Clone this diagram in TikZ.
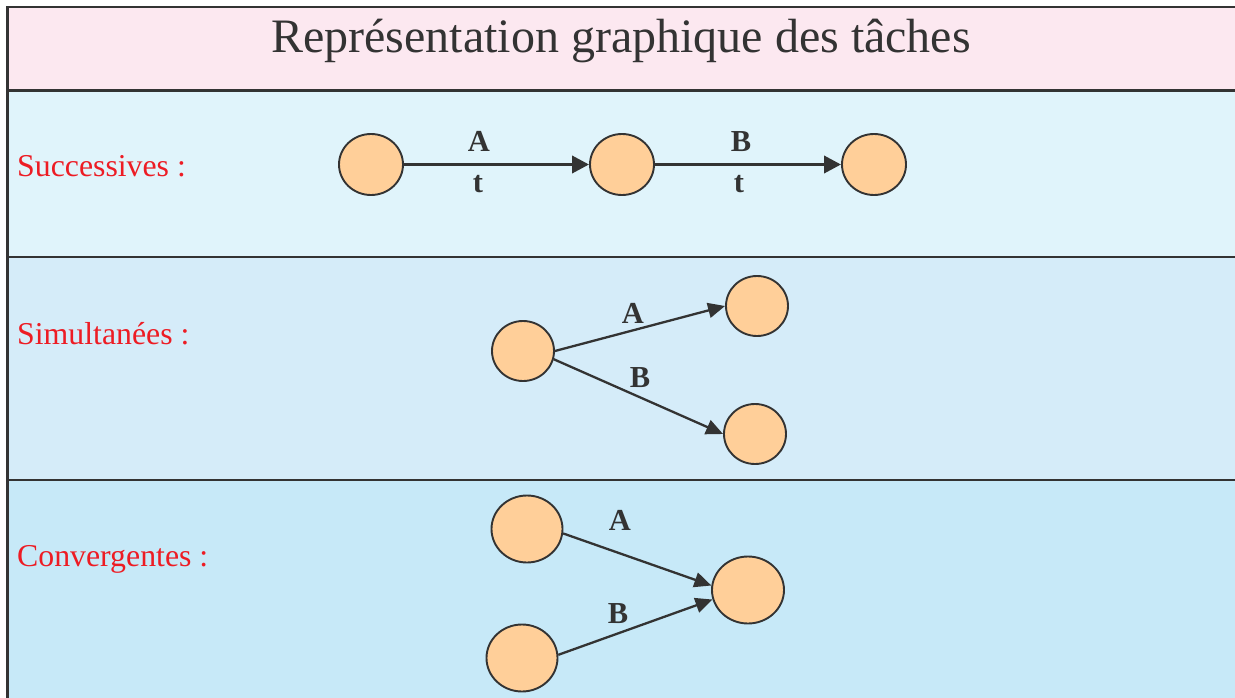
\documentclass[tikz,border=0pt]{standalone}
\usepackage{fontspec}
\setmainfont{Liberation Serif}
\usetikzlibrary{arrows.meta,shapes.geometric}
\definecolor{frame}{RGB}{51,51,51}
\definecolor{titlebg}{RGB}{252,232,240}
\definecolor{rowa}{RGB}{224,244,251}
\definecolor{rowb}{RGB}{213,236,249}
\definecolor{rowc}{RGB}{199,233,248}
\definecolor{evfill}{RGB}{255,207,153}
\definecolor{labred}{RGB}{237,28,36}
\tikzset{
  ev/.style={ellipse,draw=frame,line width=1.9pt,fill=evfill,inner sep=0pt},
  evs/.style={ev,minimum width=62pt,minimum height=60pt},
  evl/.style={ev,minimum width=71pt,minimum height=67pt},
  thickarrow/.style={draw=frame,line width=3.6pt,-{Triangle[length=17pt,width=17pt]}},
  thinarrow/.style={draw=frame,line width=2.3pt,-{Triangle[length=17pt,width=15pt]}},
  tlabel/.style={anchor=base,text=frame,font=\fontsize{30.5}{33}\selectfont\bfseries,inner sep=0pt},
  rowlabel/.style={anchor=base west,text=labred,font=\fontsize{31.8}{34}\selectfont,inner sep=0pt},
  sep/.style={draw=frame,line width=2.6pt}
}
\begin{document}
\begin{tikzpicture}[x=1pt,y=-1pt]
\useasboundingbox (0,0) rectangle (1235,698);
% backgrounds
\fill[titlebg] (7.5,7) rectangle (1235,90.5);
\fill[rowa] (7.5,90.5) rectangle (1235,257);
\fill[rowb] (7.5,257) rectangle (1235,480);
\fill[rowc] (7.5,480) rectangle (1235,698);
% frame lines
\draw[sep] (7.5,698) -- (7.5,7) -- (1235,7);
\draw[sep] (7.5,90.5) -- (1235,90.5);
\draw[sep] (7.5,257) -- (1235,257);
\draw[sep] (7.5,480) -- (1235,480);
% title
\node[anchor=base,text=frame,font=\fontsize{48}{50}\selectfont,inner sep=0pt] (title) at (621,53) {Représentation graphique des tâches};
% row labels
\node[rowlabel] (lsucc) at (17,177) {Successives :};
\node[rowlabel] (lsimu) at (17,344) {Simultanées :};
\node[rowlabel] (lconv) at (17,566) {Convergentes :};
% successives
\node[evs,minimum width=64pt,minimum height=61pt] (a1) at (371,164.5) {};
\node[evs,minimum width=64pt,minimum height=61pt] (a2) at (622,164.5) {};
\node[evs,minimum width=64pt,minimum height=61pt] (a3) at (874,164.5) {};
\draw[thickarrow] (a1) -- (a2);
\draw[thickarrow] (a2) -- (a3);
\node[tlabel] (sA) at (479,152) {A};
\node[tlabel] (st1) at (478,193) {t};
\node[tlabel] (sB) at (741,152) {B};
\node[tlabel] (st2) at (739,193) {t};
% simultanees
\node[evs] (b1) at (523,351) {};
\node[evs] (b2) at (757,306) {};
\node[evs] (b3) at (755,434) {};
\draw[thinarrow] (b1.east) -- (b2.west);
\draw[thinarrow] (b1.-15) -- (b3.west);
\node[tlabel] (mA) at (633,323) {A};
\node[tlabel] (mB) at (640,387) {B};
% convergentes
\node[evl] (c1) at (527,529) {};
\node[evl] (c2) at (522,658) {};
\node[evl,minimum width=72pt] (c3) at (748,590) {};
\draw[thinarrow] (c1.-7) -- (c3.173);
\draw[thinarrow] (c2.5) -- (c3.-165);
\node[tlabel] (cA) at (620,530) {A};
\node[tlabel] (cB) at (618,623) {B};
\end{tikzpicture}
\end{document}
